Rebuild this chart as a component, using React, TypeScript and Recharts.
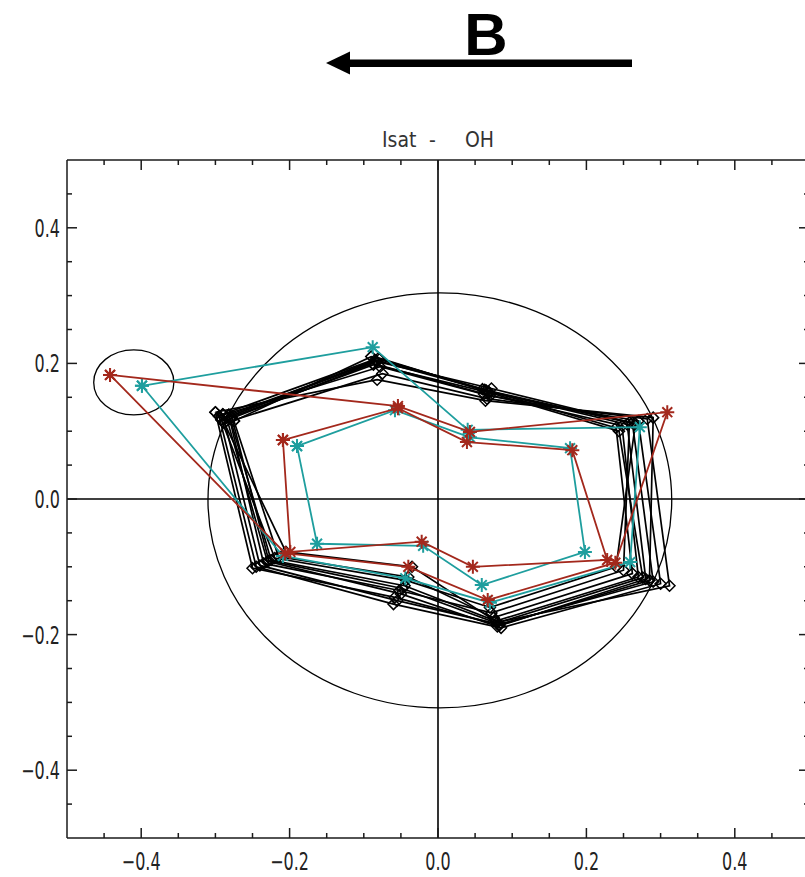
import React from 'react';
import { ScatterChart, Scatter, XAxis, YAxis, ReferenceLine, ReferenceArea } from 'recharts';

type Pt = [number, number];

const tickValues = [
  -0.45, -0.4, -0.35, -0.3, -0.25, -0.2, -0.15, -0.1, -0.05, 0,
  0.05, 0.1, 0.15, 0.2, 0.25, 0.3, 0.35, 0.4, 0.45,
];
const majorTicks = [-0.4, -0.2, 0, 0.2, 0.4];
const axisDomain: [number, number] = [-0.5, 0.5];

// outline boxes (x1, x2, y1, y2) of the big reference circle and the small one round the outliers
const bigCircle = [-0.31, 0.315, -0.308, 0.304];
const smallCircle = [-0.464, -0.356, 0.124, 0.22];

// red probe loops
const redOuter: Pt[] = [
  [-0.442, 0.183], [-0.054, 0.137], [0.043, 0.099], [0.309, 0.128],
  [0.239, -0.094], [0.067, -0.149], [-0.04, -0.1], [-0.206, -0.08],
];
const redInner: Pt[] = [
  [-0.209, 0.087], [-0.054, 0.134], [0.039, 0.084], [0.181, 0.072],
  [0.228, -0.09], [0.047, -0.1], [-0.022, -0.063], [-0.199, -0.078],
];

// cyan probe loops
const cyanOuter: Pt[] = [
  [-0.399, 0.167], [-0.088, 0.224], [0.04, 0.102], [0.272, 0.106],
  [0.259, -0.093], [0.07, -0.153], [-0.044, -0.117], [-0.209, -0.084],
];
const cyanInner: Pt[] = [
  [-0.19, 0.078], [-0.058, 0.131], [0.043, 0.091], [0.178, 0.075],
  [0.198, -0.078], [0.059, -0.127], [-0.02, -0.069], [-0.163, -0.066],
];

// black frames (diamonds)
const frame01: Pt[] = [[-0.285, 0.12], [-0.085, 0.205], [0.065, 0.16], [0.255, 0.11], [0.28, -0.118], [0.08, -0.188], [-0.05, -0.14], [-0.23, -0.092]];
const frame02: Pt[] = [[-0.29, 0.125], [-0.08, 0.208], [0.068, 0.158], [0.262, 0.112], [0.29, -0.122], [0.082, -0.185], [-0.055, -0.15], [-0.24, -0.098]];
const frame03: Pt[] = [[-0.28, 0.118], [-0.088, 0.2], [0.062, 0.155], [0.248, 0.108], [0.27, -0.115], [0.078, -0.18], [-0.045, -0.128], [-0.225, -0.09]];
const frame04: Pt[] = [[-0.295, 0.122], [-0.078, 0.195], [0.07, 0.152], [0.27, 0.115], [0.3, -0.125], [0.085, -0.19], [-0.06, -0.155], [-0.245, -0.1]];
const frame05: Pt[] = [[-0.275, 0.115], [-0.09, 0.21], [0.06, 0.162], [0.24, 0.105], [0.262, -0.11], [0.075, -0.175], [-0.04, -0.115], [-0.215, -0.085]];
const frame06: Pt[] = [[-0.288, 0.112], [-0.075, 0.185], [0.066, 0.148], [0.282, 0.118], [0.312, -0.128], [0.08, -0.182], [-0.035, -0.1], [-0.205, -0.078]];
const frame07: Pt[] = [[-0.282, 0.124], [-0.083, 0.203], [0.072, 0.163], [0.258, 0.113], [0.25, -0.105], [0.072, -0.168], [-0.052, -0.135], [-0.235, -0.095]];
const frame08: Pt[] = [[-0.3, 0.128], [-0.082, 0.176], [0.064, 0.145], [0.29, 0.12], [0.285, -0.12], [0.083, -0.186], [-0.058, -0.145], [-0.25, -0.102]];
const frame09: Pt[] = [[-0.278, 0.121], [-0.087, 0.198], [0.069, 0.157], [0.244, 0.1], [0.276, -0.116], [0.079, -0.183], [-0.048, -0.132], [-0.228, -0.091]];
const frame10: Pt[] = [[-0.292, 0.117], [-0.079, 0.206], [0.063, 0.161], [0.266, 0.111], [0.24, -0.1], [0.07, -0.16], [-0.043, -0.12], [-0.22, -0.087]];
const blackFrames = [frame01, frame02, frame03, frame04, frame05, frame06, frame07, frame08, frame09, frame10];

const RED = '#a3281c';
const CYAN = '#1e9e9e';
const AXIS = '#1a1a1a';
const FONT = "'DejaVu Sans Condensed', 'Liberation Sans Narrow', 'DejaVu Sans', sans-serif";

const closed = (pts: Pt[]) => [...pts, pts[0]].map(([x, y]) => ({ x, y }));
const isMajor = (v: number) => majorTicks.some((m) => Math.abs(m - v) < 1e-6);
const fmt = (v: number) => v.toFixed(1).replace('-', '\u2212');

function NarrowText({ x, y, anchor, size, children }: any) {
  return (
    <text
      transform={`translate(${x},${y}) scale(0.74,1)`}
      textAnchor={anchor}
      fontFamily={FONT}
      fontSize={size}
      fill="#222"
    >
      {children}
    </text>
  );
}

function BottomTick({ x, y, payload }: any) {
  const major = isMajor(payload.value);
  return (
    <g>
      <line x1={x} x2={x} y1={y} y2={y - (major ? 10 : 5)} stroke={AXIS} strokeWidth={1.5} />
      {major && (
        <NarrowText x={x} y={y + 32} anchor="middle" size={24}>
          {fmt(payload.value)}
        </NarrowText>
      )}
    </g>
  );
}

function TopTick({ x, y, payload }: any) {
  const major = isMajor(payload.value);
  return <line x1={x} x2={x} y1={y} y2={y + (major ? 10 : 5)} stroke={AXIS} strokeWidth={1.5} />;
}

function LeftTick({ x, y, payload }: any) {
  const major = isMajor(payload.value);
  return (
    <g>
      <line x1={x} x2={x + (major ? 10 : 5)} y1={y} y2={y} stroke={AXIS} strokeWidth={1.5} />
      {major && (
        <NarrowText x={x - 7} y={y + 9} anchor="end" size={24}>
          {fmt(payload.value)}
        </NarrowText>
      )}
    </g>
  );
}

function RightTick({ x, y, payload }: any) {
  const major = isMajor(payload.value);
  return <line x1={x} x2={x - (major ? 10 : 5)} y1={y} y2={y} stroke={AXIS} strokeWidth={1.5} />;
}

function Diamond({ cx, cy }: any) {
  const s = 5.5;
  return (
    <path
      d={`M${cx},${cy - s}L${cx + s},${cy}L${cx},${cy + s}L${cx - s},${cy}Z`}
      fill="none"
      stroke="#000"
      strokeWidth={1.5}
    />
  );
}

const makeStar = (color: string) =>
  function Star({ cx, cy }: any) {
    const r = 7;
    const d = r * 0.7071;
    return (
      <path
        d={`M${cx - r},${cy}H${cx + r}M${cx},${cy - r}V${cy + r}M${cx - d},${cy - d}L${cx + d},${cy + d}M${cx - d},${cy + d}L${cx + d},${cy - d}`}
        stroke={color}
        strokeWidth={2}
        fill="none"
      />
    );
  };

const RedStar = makeStar(RED);
const CyanStar = makeStar(CYAN);

function Ellipse({ x, y, width, height }: any) {
  return (
    <ellipse
      cx={x + width / 2}
      cy={y + height / 2}
      rx={Math.abs(width) / 2}
      ry={Math.abs(height) / 2}
      fill="none"
      stroke="#000"
      strokeWidth={1.3}
    />
  );
}

export default function App() {
  return (
    <div
      style={{
        position: 'absolute',
        left: 0,
        top: 0,
        width: 805,
        height: 877,
        overflow: 'hidden',
        background: '#fff',
      }}
    >
      <svg width={805} height={160} style={{ position: 'absolute', left: 0, top: 0 }}>
        <text
          x={486}
          y={55}
          textAnchor="middle"
          fontFamily="'Liberation Sans', Arial, sans-serif"
          fontWeight="bold"
          fontSize={60}
          fill="#000"
        >
          B
        </text>
        <rect x={347} y={59.5} width={285} height={7.5} fill="#000" />
        <polygon points="326,63 350,51.5 350,74.5" fill="#000" />
        <text y={147} fontFamily={FONT} fontSize={21} fill="#333">
          <tspan x={382}>Isat</tspan>
          <tspan x={429}>-</tspan>
          <tspan x={465}>OH</tspan>
        </text>
      </svg>
      <div style={{ position: 'absolute', left: 0, top: 0 }}>
        <ScatterChart width={830} height={877} margin={{ top: 150, right: 20, bottom: 0, left: 0 }}>
          <XAxis
            type="number"
            dataKey="x"
            domain={axisDomain}
            ticks={tickValues}
            interval={0}
            allowDataOverflow
            height={39}
            tickSize={0}
            tickMargin={0}
            tickLine={false}
            axisLine={{ stroke: AXIS, strokeWidth: 1.5 }}
            tick={BottomTick}
          />
          <XAxis
            xAxisId="top"
            orientation="top"
            type="number"
            dataKey="x"
            domain={axisDomain}
            ticks={tickValues}
            interval={0}
            allowDataOverflow
            height={10}
            tickSize={0}
            tickMargin={0}
            tickLine={false}
            axisLine={{ stroke: AXIS, strokeWidth: 1.5 }}
            tick={TopTick}
          />
          <YAxis
            type="number"
            dataKey="y"
            domain={axisDomain}
            ticks={tickValues}
            interval={0}
            allowDataOverflow
            width={67}
            tickSize={0}
            tickMargin={0}
            tickLine={false}
            axisLine={{ stroke: AXIS, strokeWidth: 1.5 }}
            tick={LeftTick}
          />
          <YAxis
            yAxisId="right"
            orientation="right"
            type="number"
            dataKey="y"
            domain={axisDomain}
            ticks={tickValues}
            interval={0}
            allowDataOverflow
            width={1}
            tickSize={0}
            tickMargin={0}
            tickLine={false}
            axisLine={{ stroke: AXIS, strokeWidth: 1.5 }}
            tick={RightTick}
          />
          <ReferenceLine x={0} stroke="#000" strokeWidth={1.6} />
          <ReferenceLine y={0} stroke="#000" strokeWidth={1.6} />
          <ReferenceArea
            x1={bigCircle[0]}
            x2={bigCircle[1]}
            y1={bigCircle[2]}
            y2={bigCircle[3]}
            shape={Ellipse}
          />
          <ReferenceArea
            x1={smallCircle[0]}
            x2={smallCircle[1]}
            y1={smallCircle[2]}
            y2={smallCircle[3]}
            shape={Ellipse}
          />
          {blackFrames.map((f, i) => (
            <Scatter
              key={`frame-${i}`}
              data={closed(f)}
              line={{ stroke: '#000', strokeWidth: 1.7 }}
              shape={Diamond}
              isAnimationActive={false}
            />
          ))}
          <Scatter data={closed(cyanOuter)} line={{ stroke: CYAN, strokeWidth: 1.8 }} shape={CyanStar} isAnimationActive={false} />
          <Scatter data={closed(cyanInner)} line={{ stroke: CYAN, strokeWidth: 1.8 }} shape={CyanStar} isAnimationActive={false} />
          <Scatter data={closed(redOuter)} line={{ stroke: RED, strokeWidth: 1.8 }} shape={RedStar} isAnimationActive={false} />
          <Scatter data={closed(redInner)} line={{ stroke: RED, strokeWidth: 1.8 }} shape={RedStar} isAnimationActive={false} />
        </ScatterChart>
      </div>
    </div>
  );
}
